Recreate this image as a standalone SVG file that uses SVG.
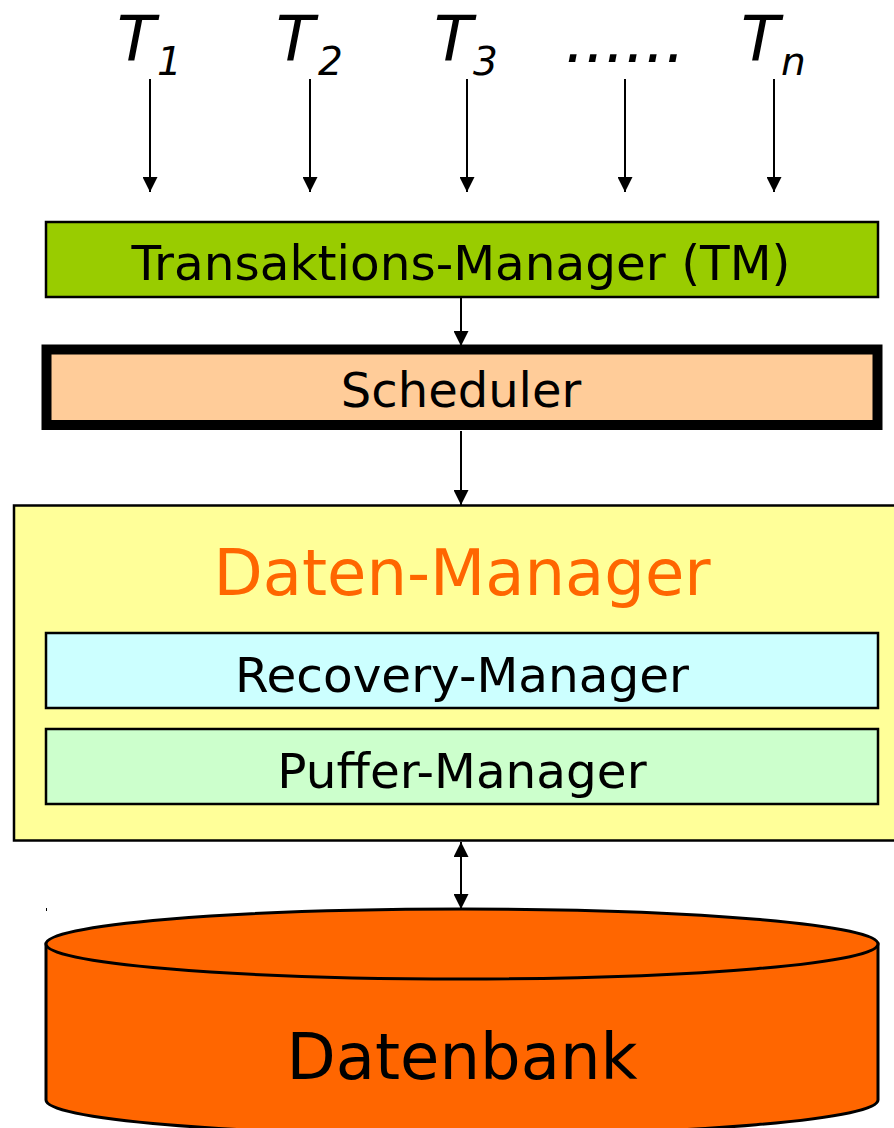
<svg xmlns="http://www.w3.org/2000/svg" width="894" height="1128" viewBox="0 0 894 1128">
  <style>
    .lbl { font-family: "DejaVu Sans", "Liberation Sans", sans-serif; fill: #000; }
    .mid { text-anchor: middle; }
    .tx { font-size: 63px; font-style: italic; }
    .sub { font-size: 39px; font-style: italic; }
    .box { stroke: #000; stroke-width: 2.5; }
    .conn { stroke: #000; stroke-width: 2; fill: none; }
  </style>
  <defs>
    <marker id="head" markerUnits="userSpaceOnUse" markerWidth="15" markerHeight="15"
            viewBox="0 0 15 15" refX="15" refY="7.5" orient="auto-start-reverse">
      <path d="M0,0 L15,7.5 L0,15 Z" fill="#000"/>
    </marker>
  </defs>

  <rect width="894" height="1128" fill="#fff"/>

  <!-- transactions -->
  <g id="transactions">
    <text class="lbl tx" x="117" y="60">T</text><text class="lbl sub" x="157" y="75">1</text>
    <text class="lbl tx" x="276" y="60">T</text><text class="lbl sub" x="318" y="75">2</text>
    <text class="lbl tx" x="434" y="60">T</text><text class="lbl sub" x="473" y="75">3</text>
    <text class="lbl tx" x="565" y="62">......</text>
    <text class="lbl tx" x="741" y="60">T</text><text class="lbl sub" x="781" y="75">n</text>
  </g>

  <!-- transaction manager -->
  <g id="tm">
    <rect class="box" x="46" y="222" width="832" height="75" fill="#99cc00"/>
    <text class="lbl mid" x="461" y="280" font-size="48.5">Transaktions-Manager (TM)</text>
  </g>

  <!-- scheduler -->
  <g id="scheduler">
    <rect x="46.5" y="349.5" width="831" height="75.5" fill="#ffcc99" stroke="#000" stroke-width="10"/>
    <text class="lbl mid" x="461" y="407" font-size="48">Scheduler</text>
  </g>

  <!-- data manager -->
  <g id="datamanager">
    <rect class="box" x="14" y="505.5" width="900" height="335" fill="#ffff99"/>
    <text class="lbl mid" x="462" y="595" font-size="64" style="fill:#ff6600">Daten-Manager</text>
  </g>

  <g id="recovery">
    <rect class="box" x="46" y="633" width="832" height="75" fill="#ccffff"/>
    <text class="lbl mid" x="462" y="692" font-size="48.5">Recovery-Manager</text>
  </g>

  <g id="buffer">
    <rect class="box" x="46" y="729" width="832" height="75" fill="#ccffcc"/>
    <text class="lbl mid" x="462" y="788" font-size="48.5">Puffer-Manager</text>
  </g>

  <!-- database cylinder -->
  <g id="database">
    <path d="M46,944 L46,1100 A416,35 0 0 0 878,1100 L878,944 Z" fill="#ff6600" stroke="#000" stroke-width="3"/>
    <ellipse cx="462" cy="944" rx="416" ry="35" fill="#ff6600" stroke="#000" stroke-width="3"/>
    <text class="lbl mid" x="462" y="1079" font-size="64">Datenbank</text>
    <rect x="46" y="908" width="1" height="3" fill="#000"/>
  </g>

  <!-- connectors -->
  <g id="connectors">
    <line class="conn" x1="150" y1="79" x2="150" y2="192" marker-end="url(#head)"/>
    <line class="conn" x1="310" y1="79" x2="310" y2="192" marker-end="url(#head)"/>
    <line class="conn" x1="467" y1="79" x2="467" y2="192" marker-end="url(#head)"/>
    <line class="conn" x1="625" y1="79" x2="625" y2="192" marker-end="url(#head)"/>
    <line class="conn" x1="774" y1="79" x2="774" y2="192" marker-end="url(#head)"/>
    <line class="conn" x1="461" y1="298" x2="461" y2="346" marker-end="url(#head)"/>
    <line class="conn" x1="461" y1="431" x2="461" y2="505" marker-end="url(#head)"/>
    <line class="conn" x1="461" y1="842" x2="461" y2="909" marker-start="url(#head)" marker-end="url(#head)"/>
  </g>
</svg>
